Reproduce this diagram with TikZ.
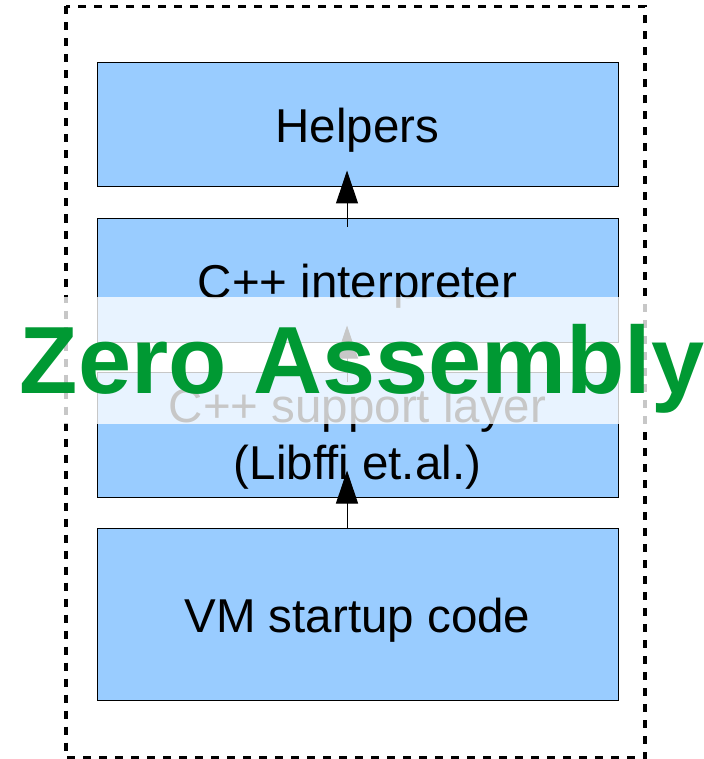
\documentclass[tikz,border=0pt]{standalone}
\usepackage{fontspec}
\setmainfont{Liberation Sans}
\usetikzlibrary{arrows.meta,calc}
\definecolor{boxblue}{HTML}{99CCFF}
\definecolor{stampgreen}{HTML}{009933}

\begin{document}
\begin{tikzpicture}[x=1pt,y=-1pt,
  layerbox/.style={draw=black, line width=1pt, fill=boxblue,
                   minimum width=521pt, inner sep=0pt},
  boxtext/.style={font=\fontsize{47.5}{57}\selectfont, anchor=base, inner sep=0pt},
  uparrow/.style={line width=1pt, -{Triangle[width=22pt,length=33pt]}},
  stamp/.style={font=\fontsize{95.5}{100}\selectfont\bfseries, text=stampgreen,
                anchor=base, inner sep=0pt}]
\useasboundingbox (0,0) rectangle (703,759);

% dashed outer frame
\draw[line width=3.5pt, dash pattern=on 8pt off 8pt] (66,6.5) rectangle (645,757.5);

% the four layers
\node[layerbox, minimum height=124pt] (helpers) at (357.5,125) {};
\node[layerbox, minimum height=124pt] (interp)  at (357.5,280) {};
\node[layerbox, minimum height=125pt] (support) at (357.5,434.5) {};
\node[layerbox, minimum height=172pt] (vm)      at (357.5,614) {};

\node[boxtext] (helperstxt) at (357.5,143) {Helpers};
\node[boxtext] (interptxt)  at (357.5,298) {C++ interpreter};
\node[boxtext] (supporttxt) at (357.5,422) {C++ support layer};
\node[boxtext] (libffitxt)  at (357.5,479) {(Libffi et.al.)};
\node[boxtext] (vmtxt)      at (357.5,632) {VM startup code};

% dependencies
\draw[uparrow] ($(vm.north)+(-10.5,0)$) -- ($(support.south)+(-10.5,-27)$);
\draw[uparrow] ($(support.north)+(-10.5,10)$) -- ($(interp.south)+(-10.5,-17)$);
\draw[uparrow] ($(interp.north)+(-10.5,9)$) -- ($(helpers.south)+(-10.5,-17)$);

% translucent band behind the title
\fill[white, opacity=0.78] (0,297) rectangle (703,423.5);

\node[stamp] (title) at (362,393) {Zero Assembly};
\end{tikzpicture}
\end{document}
